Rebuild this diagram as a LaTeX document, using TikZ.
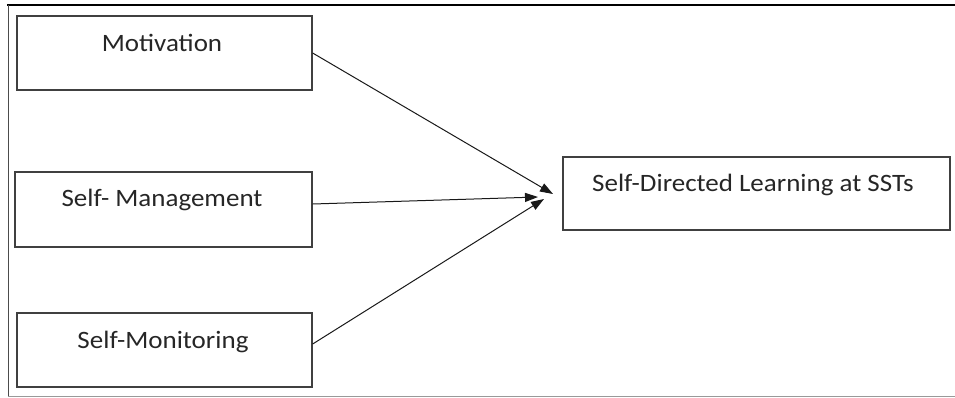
\documentclass[tikz,border=0pt]{standalone}
\usepackage{fontspec}
\setmainfont{Carlito}
\usetikzlibrary{arrows.meta}
\begin{document}
\begin{tikzpicture}[x=1pt,y=-1pt,
  box/.style={draw=black!75,line width=1.3pt,inner sep=0pt},
  lbl/.style={font=\fontsize{25}{30}\selectfont,text=black!85,inner sep=0pt,xscale=1.08},
  conn/.style={draw=black!90,line width=1pt,-{Triangle[length=13pt,width=9pt]}}]
\useasboundingbox (0,0) rectangle (955,397);
% frame
\draw[line width=2pt,black] (7,5) -- (955,5);
\draw[line width=1pt,black!70] (8,5) -- (8,396.5);
\draw[line width=1pt,black!40] (8,396.5) -- (955,396.5);
% boxes
\node[box,minimum width=295pt,minimum height=74pt] (mot) at (164.5,53) {};
\node[box,minimum width=297pt,minimum height=75pt] (man) at (163.5,209.5) {};
\node[box,minimum width=295pt,minimum height=74pt] (mon) at (164.5,350) {};
\node[box,minimum width=387pt,minimum height=73pt] (sdl) at (756.5,193.5) {};
% labels
\node[lbl] (motT) at (162,43) {Motivation};
\node[lbl] (manT) at (162,200) {Self- Management};
\node[lbl] (monT) at (163,342) {Self-Monitoring};
\node[lbl] (sdlT) at (753,185) {Self-Directed Learning at SSTs};
% arrow end points
\coordinate (e1) at (553,194);
\coordinate (e2) at (538,197);
\coordinate (e3) at (544,199);
\draw[conn] (mot.east |- 0,53) -- (e1);
\draw[conn] (man.east |- 0,204) -- (e2);
\draw[conn] (mon.east |- 0,344) -- (e3);
\end{tikzpicture}
\end{document}
